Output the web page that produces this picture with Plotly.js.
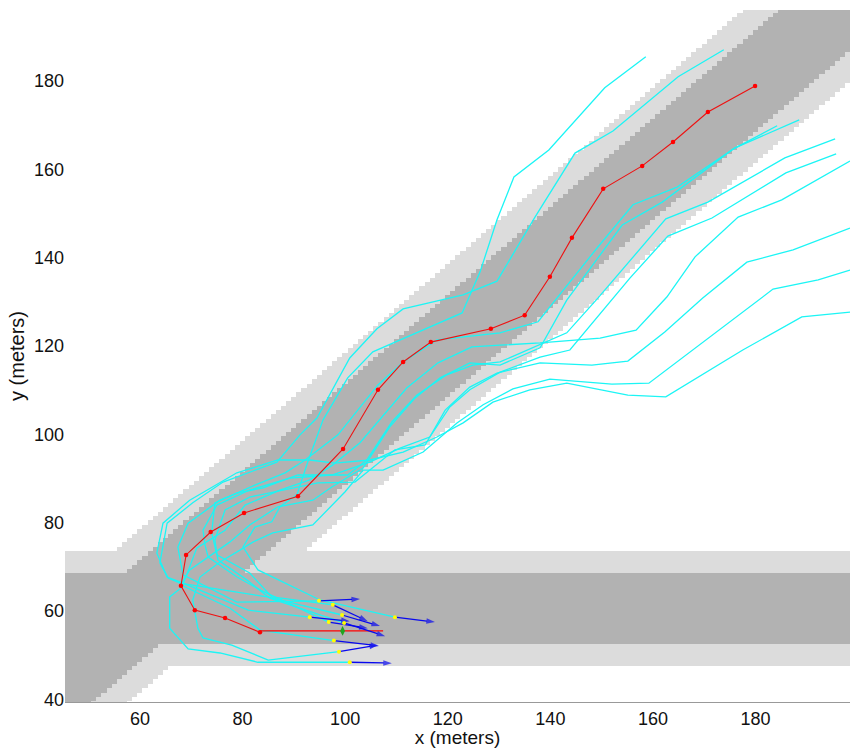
<!DOCTYPE html>
<html><head><meta charset="utf-8">
<script src="https://cdn.plot.ly/plotly-3.0.1.min.js"></script>
<style>html,body{margin:0;padding:0;background:#fff}#c{width:850px;height:748px}</style>
</head><body><div id="c"></div><script>
// Road geometry (metres): horizontal road centre y, diagonal road y = x + offset
const horizCentre = 60.5, darkHalfH = 7.5, lightHalfH = 12.5;
const diagOffset = 0, darkHalfD = 11.5, lightHalfD = 18.5;
const cellX0 = 45, cellX1 = 199, cellY0 = 39, cellY1 = 197;

const t1x=[158.6,150.6,139.7,132.9,129.6,126.3,122.8,105.4,100.5,95.7,92.7,90.6,87.3,85.7,82.4,80.1,83.0,95.1,109.7];
const t1y=[185.5,178.5,164.4,158.3,148.6,136.8,127.5,118.7,112.8,103.3,93.7,86.3,83.6,80.2,79.0,74.5,69.3,62.5,58.6];
const t2x=[173.8,164.9,152.2,144.8,137.0,129.6,123.0,111.3,106.2,100.9,94.5,91.2,86.7,82.4,76.2,70.3,65.3,63.9,65.5,67.8,84.8,99.4];
const t2y=[187.1,181.0,168.7,163.7,149.2,134.7,131.6,128.4,123.9,117.3,103.7,99.9,93.7,91.9,89.2,84.5,79.9,70.9,67.5,66.3,63.2,59.1];
const t3x=[188.5,176.0,164.7,156.1,149.1,137.6,130.2,117.9,111.3,106.4,98.6,92.2,88.3,82.4,74.6,74.0,75.0,81.4,85.7,97.6];
const t3y=[171.2,164.9,156.0,152.0,142.2,125.5,123.0,121.4,116.4,111.2,99.9,94.2,91.3,88.5,84.5,77.7,72.7,68.6,63.2,61.4];
const t4x=[184.2,175.6,161.8,154.0,143.2,138.0,130.2,124.3,118.5,113.6,108.7,103.5,97.4,93.7,86.9,81.4,77.5,73.3,69.7,68.0,77.5,83.4,97.8];
const t4y=[169.9,164.6,152.6,147.4,130.4,119.6,115.7,116.2,112.8,108.2,101.7,92.4,88.1,85.1,83.6,79.5,75.6,72.2,69.3,65.9,60.7,55.7,53.3];
const t5x=[195.5,185.7,170.7,162.5,149.3,143.2,130.2,124.9,119.8,114.0,109.1,104.2,100.5,90.8,84.0,78.9,75.6,69.4,67.4,68.4,78.9,94.9];
const t5y=[166.9,162.6,152.6,148.8,130.9,123.0,116.4,115.7,113.5,108.9,102.8,94.2,90.8,90.8,87.9,86.7,85.1,79.9,74.5,68.2,62.0,62.3];
const t6x=[195.7,185.9,171.5,162.9,155.5,143.8,138.0,130.2,124.3,120.4,116.5,110.7,104.8,97.4,89.2,81.4,75.0,72.3,72.7,73.3,78.9,83.4,96.8];
const t6y=[163.5,159.2,149.0,144.9,135.4,119.1,117.5,114.1,110.1,106.2,99.4,96.9,93.7,90.8,90.1,87.4,84.0,78.3,74.9,72.2,67.7,64.8,57.5];
const t7x=[198.4,185.1,176.6,168.2,162.7,156.7,149.7,138.0,130.2,124.7,118.1,112.0,102.9,97.6,93.1,87.3,80.5,76.6,71.1,68.2,65.8,65.8,69.4,75.6,83.0,100.9];
const t7y=[161.9,153.1,149.2,140.2,131.1,123.6,121.8,120.7,120.2,119.8,116.2,110.5,98.1,93.1,89.7,87.4,84.0,78.3,74.3,65.4,63.2,56.1,51.4,50.5,48.4,48.4];
const t8x=[198.4,187.3,178.3,169.7,162.3,155.1,148.1,138.0,129.6,124.3,119.5,115.6,109.7,101.9,94.7,90.2,81.4,76.6,74.6,75.2,80.9,85.3,99.8];
const t8y=[146.7,141.8,139.0,130.9,123.2,116.6,115.7,116.2,113.9,110.7,105.5,97.6,96.5,89.2,89.0,87.9,85.8,82.9,76.1,71.6,67.0,62.9,57.3];
const t9x=[198.4,192.2,183.4,173.6,166.8,159.2,152.0,139.9,132.7,126.9,121.8,115.2,107.4,103.5,100.0,93.7,85.9,82.0,79.5,75.6,71.7,70.3,71.3,72.3,77.9,85.0,98.8];
const t9y=[137.2,135.0,132.9,124.3,118.4,111.6,111.4,112.5,110.3,106.7,102.6,96.0,91.9,91.9,87.0,79.5,77.7,75.6,73.8,71.1,67.7,62.5,56.1,53.9,52.3,48.9,50.8];
const t10x=[198.4,189.0,177.5,162.5,155.1,143.2,136.0,128.8,123.0,117.9,111.3,104.8,98.0,93.1,86.9,78.9,69.7,64.5,63.3,65.3,67.8,81.1,93.1];
const t10y=[127.7,126.6,119.1,108.5,108.9,111.6,110.1,107.3,102.6,99.4,96.0,94.2,93.5,94.2,94.2,91.3,85.1,79.9,73.1,67.7,66.6,60.2,58.6];
const cyanX=[t1x,t2x,t3x,t4x,t5x,t6x,t7x,t8x,t9x,t10x];
const cyanY=[t1y,t2y,t3y,t4y,t5y,t6y,t7y,t8y,t9y,t10y];

const redX=[179.9,170.7,163.9,157.9,150.3,144.2,139.9,135.0,128.4,116.7,111.3,106.4,99.6,90.8,80.3,73.8,69.0,68.0,70.7,76.6,83.4];
const redY=[178.9,173.0,166.2,160.8,155.6,144.5,135.7,127.0,123.9,120.9,116.4,110.1,96.7,86.0,82.2,77.9,72.7,65.7,60.2,58.4,55.2];
const redEndX=[83.4,107.4], redEndY=[55.5,55.5];
const goalX=[99.5], goalY=[55.5];

const arrowStartX=[109.7,99.4,97.6,97.8,94.9,96.8,100.9,99.8,98.8,93.1];
const arrowStartY=[58.6,59.1,61.4,53.3,62.3,57.5,48.4,57.3,50.8,58.6];
const arrowTipX=[117.5,106.8,104.4,106.6,102.9,104.4,109.1,107.8,106.4,100.9];
const arrowTipY=[57.5,56.6,57.7,52.1,62.7,56.1,48.2,54.3,52.3,57.7];

const xTicks=[60,80,100,120,140,160,180], yTicks=[40,60,80,100,120,140,160,180];

// Occupancy grid: 0 off road, 1 shoulder, 2 lane
const gx=[],gy=[];
for(let x=cellX0;x<=cellX1;x++)gx.push(x);
for(let y=cellY0;y<=cellY1;y++)gy.push(y);
const gz=gy.map(y=>gx.map(x=>{
  const dh=Math.abs(y-horizCentre), dd=Math.abs(y-x-diagOffset);
  if(dh<=darkHalfH||dd<=darkHalfD)return 2;
  if(dh<=lightHalfH||dd<=lightHalfD)return 1;
  return 0;
}));

const traces=[{type:'heatmap',x:gx,y:gy,z:gz,zmin:0,zmax:2,showscale:false,zsmooth:false,hoverinfo:'skip',
  colorscale:[[0,'#ffffff'],[0.33,'#ffffff'],[0.33,'#dcdcdc'],[0.66,'#dcdcdc'],[0.66,'#b2b2b2'],[1,'#b2b2b2']]}];
cyanX.forEach((xs,i)=>traces.push({type:'scatter',mode:'lines',x:xs,y:cyanY[i],line:{color:'#1cf5f5',width:1.3},hoverinfo:'skip'}));
traces.push({type:'scatter',mode:'lines',x:redEndX,y:redEndY,line:{color:'#ff0000',width:1.3},hoverinfo:'skip'});
traces.push({type:'scatter',mode:'lines+markers',x:redX,y:redY,line:{color:'#ee1111',width:1.1},marker:{color:'#ff0000',size:4.5},hoverinfo:'skip'});
arrowStartX.forEach((sx,i)=>traces.push({type:'scatter',mode:'lines+markers',x:[sx,arrowTipX[i]],y:[arrowStartY[i],arrowTipY[i]],
  line:{color:'#0808ee',width:1.3},marker:{symbol:'arrow',angleref:'previous',size:[0,9],color:'#0808ee',line:{width:0}},hoverinfo:'skip'}));
traces.push({type:'scatter',mode:'markers',x:arrowStartX,y:arrowStartY,marker:{color:'#ffff00',size:4},hoverinfo:'skip'});
traces.push({type:'scatter',mode:'markers',x:goalX,y:goalY,marker:{symbol:'diamond-tall',color:'#1fa51f',size:7},hoverinfo:'skip'});

const font={family:'"Liberation Sans",Arial,sans-serif',size:18,color:'#111'};
const xTitleFont={family:font.family,size:19,color:'#111'};
const yTitleFont={family:font.family,size:20,color:'#111'};
Plotly.newPlot('c',traces,{
  width:850,height:748,showlegend:false,paper_bgcolor:'#fff',plot_bgcolor:'#fff',font:font,
  margin:{l:65,r:0,t:10,b:46,pad:0},
  xaxis:{range:[45.4,198.4],tickvals:xTicks,ticks:'',showgrid:false,zeroline:false,showline:true,linecolor:'#999',linewidth:1,
    tickfont:font,ticklen:0,title:{text:'x (meters)',font:xTitleFont,standoff:2},automargin:false},
  yaxis:{range:[39.4,196.1],tickvals:yTicks,ticks:'',showgrid:false,zeroline:false,showline:false,
    tickfont:font,title:{text:'y (meters)',font:yTitleFont,standoff:3},automargin:false}
},{staticPlot:true,displayModeBar:false});
</script></body></html>
